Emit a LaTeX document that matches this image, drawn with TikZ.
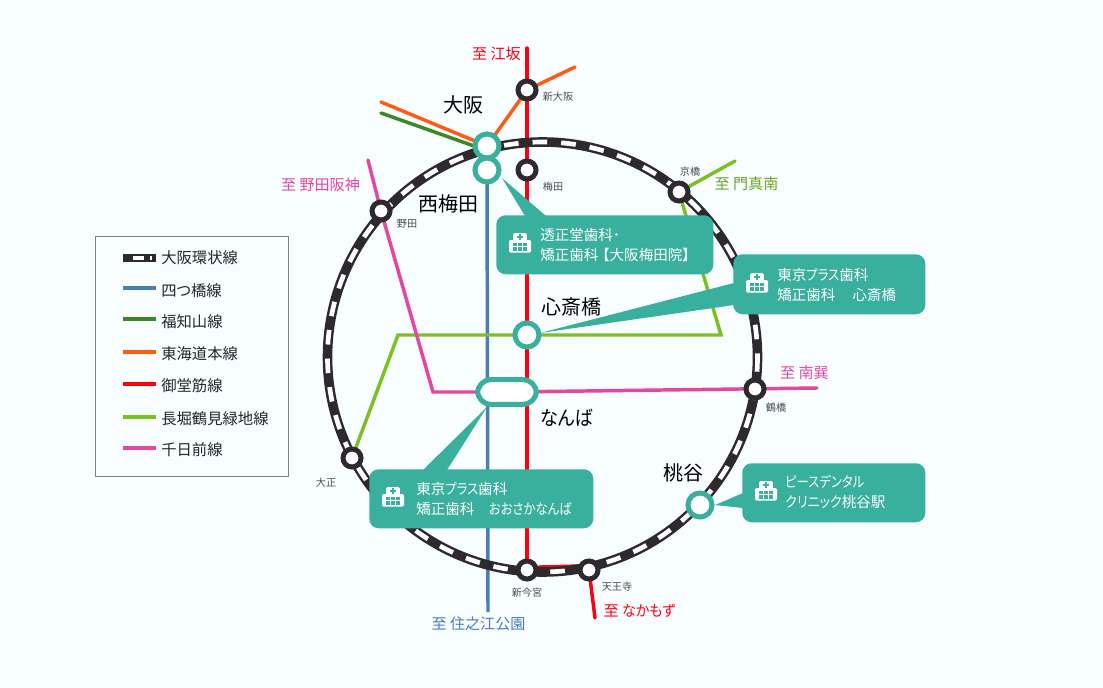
\documentclass[tikz,border=0pt]{standalone}
\usepackage{fontspec}
\setmainfont[RawFeature=+palt]{Noto Sans CJK JP}
\usetikzlibrary{backgrounds}
\definecolor{pagebg}{HTML}{F8FEFF}
\definecolor{ringcol}{HTML}{2E292D}
\definecolor{tealcol}{HTML}{39AF9E}
\definecolor{bluecol}{HTML}{4A7DB8}
\definecolor{greencol}{HTML}{3A8A24}
\definecolor{orangecol}{HTML}{FF5A14}
\definecolor{redcol}{HTML}{FF0010}
\definecolor{limecol}{HTML}{7CC024}
\definecolor{pinkcol}{HTML}{E546A2}
\definecolor{namecol}{HTML}{4A4A55}
\newcommand{\kn}[2][0.85]{\scalebox{#1}[1]{#2}}
\tikzset{
  x=0.75pt, y=-0.75pt,
  railline/.style={line width=2.6pt, line cap=round, line join=miter},
  station/.style={circle, draw=ringcol, fill=white, line width=3.75pt, minimum size=13.5pt, inner sep=0pt},
  transfer/.style={circle, draw=tealcol, fill=white, line width=3.8pt, minimum size=18pt, inner sep=0pt},
  bigname/.style={font=\fontsize{15}{18}\selectfont, text=black, inner sep=0pt},
  smallname/.style={font=\fontsize{7.6}{9}\selectfont, text=namecol, inner sep=0pt},
  dest/.style={font=\fontsize{11.3}{13}\selectfont, inner sep=0pt},
  legendtext/.style={font=\fontsize{11.5}{13}\selectfont, text=black!85, anchor=west, inner sep=0pt},
  callout/.style={fill=tealcol, rounded corners=7pt, anchor=north west, inner sep=0pt},
  calltext/.style={font=\fontsize{10.9}{15}\selectfont, text=white, align=left, anchor=west, inner sep=0pt},
  hospicon/.pic={
    \fill [white, rounded corners=1pt] (-11,-3) rectangle (11,9.5);
    \fill [white, rounded corners=1pt] (-6.8,-10) rectangle (6.8,0);
    \fill [tealcol] (-3.4,-6.9) rectangle (3.4,-5.1);
    \fill [tealcol] (-0.9,-9.4) rectangle (0.9,-2.6);
    \foreach \wx in {-7,-1.8,3.4} \foreach \wy in {-0.5,4.2} \fill [tealcol] (\wx,\wy) rectangle ++(3.6,3.7);
  },
}
\begin{document}
\begin{tikzpicture}
   \def\Cx{542.5}
   \def\Cy{357}
   \def\Rr{215}
   \useasboundingbox (0,0) rectangle (1103,688);

   % stations
   \node [station] (shinosaka) at (527,90) {};
   \node [station] (umeda) at (527,170) {};
   \node [station] (kyobashi) at (679,192) {};
   \node [station] (noda) at (381,211) {};
   \node [station] (tsuruhashi) at (755,389) {};
   \node [station] (taisho) at (352,458) {};
   \node [station] (shinimamiya) at (527,570) {};
   \node [station] (tennoji) at (589,570) {};
   \node [transfer] (osaka) at (487,146) {};
   \node [transfer] (nishiumeda) at (487,170) {};
   \node [transfer] (shinsaibashi) at (527,335) {};
   \node [transfer] (momodani) at (700,505) {};
   \node [draw=tealcol, fill=white, line width=3.8pt, rounded corners=10pt, minimum width=44pt, minimum height=18.5pt, inner sep=0pt] (namba) at (507,392) {};

   % free ends
   \coordinate (redtop) at (527,48);
   \coordinate (redbot) at (595,618);
   \coordinate (redA) at (540,567);
   \coordinate (redB) at (580,566);
   \coordinate (orangeA) at (575,67);
   \coordinate (orangeB) at (381,102);
   \coordinate (greenA) at (381,113);
   \coordinate (greenB) at (474,146);
   \coordinate (bluebot) at (488,612);
   \coordinate (limeA) at (735,161);
   \coordinate (limeB) at (721,335);
   \coordinate (limeC) at (398,335);
   \coordinate (pinkA) at (368,160);
   \coordinate (pinkB) at (433,392);
   \coordinate (pinkC) at (817,388);

   \begin{scope}[on background layer]
     \fill [pagebg] (0,0) rectangle (1103,688);
     % lines
     \draw [railline, redcol] (redtop) -- (shinimamiya.center);
     \draw [railline, redcol] (shinimamiya.center) -- (redA) -- (redB) -- (tennoji.center) -- (redbot);
     \draw [railline, orangecol] (orangeA) -- (shinosaka.center) -- (osaka.center) -- (orangeB);
     \draw [railline, greencol] (greenA) -- (greenB);
     \draw [railline, bluecol, line cap=butt] (nishiumeda.center) -- (bluebot);
     \draw [railline, limecol] (limeA) -- (kyobashi.center) -- (limeB) -- (limeC) -- (taisho.center);
     \draw [railline, pinkcol] (pinkA) -- (noda.center) -- (pinkB) -- (namba.center) -- (pinkC);
     % ring
     \draw [ringcol, line width=7.2pt] (\Cx,\Cy) circle (\Rr);
     \draw [white, line width=3.5pt, dash pattern=on 11pt off 10.5pt] (\Cx,\Cy) circle (\Rr);
   \end{scope}

   % callouts
   \coordinate (tipA) at (502,178);
   \coordinate (tipAa) at (525,216);
   \coordinate (tipAb) at (546,216);
   \coordinate (tipB) at (540,333);
   \coordinate (tipBa) at (734,283);
   \coordinate (tipBb) at (734,305);
   \coordinate (tipC) at (487,407);
   \coordinate (tipCa) at (423,470);
   \coordinate (tipCb) at (447,470);
   \coordinate (tipD) at (715,505);
   \coordinate (tipDa) at (743,493);
   \coordinate (tipDb) at (743,508);
   \fill [tealcol] (tipA) -- (tipAa) -- (tipAb) -- cycle;
   \fill [tealcol] (tipB) -- (tipBa) -- (tipBb) -- cycle;
   \fill [tealcol] (tipC) -- (tipCa) -- (tipCb) -- cycle;
   \fill [tealcol] (tipD) -- (tipDa) -- (tipDb) -- cycle;
   \node [callout, minimum width=162.75pt, minimum height=44.25pt] (boxA) at (496,215) {};
   \node [callout, minimum width=144pt, minimum height=45pt] (boxB) at (733,254) {};
   \node [callout, minimum width=168pt, minimum height=44.25pt] (boxC) at (369,469) {};
   \node [callout, minimum width=137.25pt, minimum height=44.25pt] (boxD) at (742,463) {};
   \pic at (520,243) {hospicon};
   \pic at (757,283) {hospicon};
   \pic at (393,497) {hospicon};
   \pic at (766,491) {hospicon};
   \node [calltext] (textA) at (540,245) {透正堂歯科･\\矯正歯科\hspace{3pt}【大阪梅田院】};
   \node [calltext] (textB) at (777,285) {東京\kn{プラス}歯科\\矯正歯科　\hspace{2pt}心斎橋};
   \node [calltext] (textC) at (416,499) {東京\kn{プラス}歯科\\矯正歯科　\kn{おおさかなんば}};
   \node [calltext] (textD) at (785,492) {\kn{ピースデンタル}\\\kn[0.9]{クリニック}桃谷駅};

   % labels
   \node [bigname] (lblosaka) at (463,105) {大阪};
   \node [bigname] (lblnishi) at (448,204) {西梅田};
   \node [bigname] (lblshin) at (571,307) {心斎橋};
   \node [bigname] (lblnamba) at (567,418) {\kn[0.9]{なんば}};
   \node [bigname] (lblmomo) at (683,473) {桃谷};
   \node [smallname] (lblshinosaka) at (558,97) {新大阪};
   \node [smallname] (lblumeda) at (553,187) {梅田};
   \node [smallname] (lblkyo) at (690,172) {京橋};
   \node [smallname] (lblnoda) at (407,224) {野田};
   \node [smallname] (lbltsuru) at (776,408) {鶴橋};
   \node [smallname] (lbltaisho) at (326,483) {大正};
   \node [smallname] (lblimamiya) at (527,593) {新今宮};
   \node [smallname] (lbltenno) at (617,587) {天王寺};
   \node [dest, text=redcol] (toesaka) at (496.5,54) {至 江坂};
   \node [dest, text=pinkcol] (tonoda) at (320.5,185) {至 野田阪神};
   \node [dest, text=limecol!85!black] (tokadoma) at (746.5,184) {至 門真南};
   \node [dest, text=pinkcol] (tominami) at (804.5,373) {至 南巽};
   \node [dest, text=redcol] (tonaka) at (639.5,611) {至 \kn[0.93]{なかもず}};
   \node [dest, text=bluecol] (tosumi) at (478.5,624) {至 住之江公園};

   % legend
   \node [draw=black!50, minimum width=144.75pt, minimum height=180pt, anchor=north west, inner sep=0pt] (legendbox) at (95,236) {};
   \foreach \idx/\col/\ypos/\ytxt/\txt in {2/bluecol/288/291/四つ橋線, 3/greencol/319/322/福知山線, 4/orangecol/352/354/東海道本線, 5/redcol/384/386/御堂筋線, 6/limecol/417/419/長堀鶴見緑地線, 7/pinkcol/448/450/千日前線} {
     \node [legendtext] (leg\idx) at (161,\ytxt) {\txt};
     \coordinate (legs\idx) at (123,\ypos);
     \coordinate (lege\idx) at (156,\ypos);
     \draw [\col, line width=2.6pt] (legs\idx) -- (lege\idx);
   }
   \node [legendtext] (leg1) at (161,258) {大阪環状線};
   \coordinate (legs1) at (123,258);
   \coordinate (lege1) at (156,258);
   \draw [ringcol, line width=6pt] (legs1) -- (lege1);
   \draw [white, line width=3pt, dash pattern=on 0pt off 7.5pt on 8.25pt off 4.5pt on 1.5pt off 9pt] (legs1) -- (lege1);
\end{tikzpicture}
\end{document}
